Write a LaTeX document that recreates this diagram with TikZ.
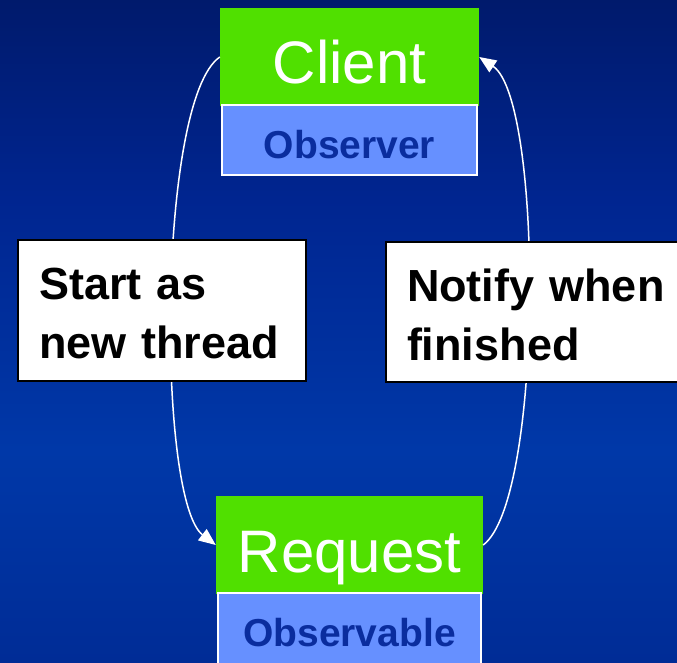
\documentclass[tikz,border=0pt]{standalone}
\usepackage{fontspec}
\setmainfont{Liberation Sans}
\usetikzlibrary{arrows.meta}

\definecolor{bgtop}{HTML}{001A6C}
\definecolor{bgupper}{HTML}{002590}
\definecolor{bglight}{HTML}{0038A8}
\definecolor{bgbottom}{HTML}{002C96}
\definecolor{classgreen}{HTML}{50E000}
\definecolor{rolefill}{HTML}{6690FF}
\definecolor{roletext}{HTML}{0A2D9E}

% backdrop: dark navy at the top, brightest blue low down
\pgfdeclareverticalshading{backdrop}{100bp}{%
  color(0bp)=(bgbottom); color(25bp)=(bgbottom);
  color(41bp)=(bglight); color(60bp)=(bgupper);
  color(75bp)=(bgtop); color(100bp)=(bgtop)}

\tikzset{
  classbox/.style={fill=classgreen, inner sep=0pt, text=white,
    font=\fontsize{60}{60}\selectfont, align=center},
  rolebox/.style={fill=rolefill, draw=white, line width=2pt, inner sep=0pt,
    text=roletext, font=\bfseries\fontsize{39}{39}\selectfont, align=center},
  notebox/.style={fill=white, draw=black, line width=2pt, inner ysep=0pt,
    inner xsep=21pt, align=left, text=black,
    font=\bfseries\fontsize{45}{59}\selectfont},
  flow/.style={draw=white, line width=1.5pt,
    -{Triangle[length=17pt,width=14pt]}}
}

\begin{document}
\begin{tikzpicture}[x=1pt,y=-1pt]
  \useasboundingbox (0,0) rectangle (677,662);
  \shade[shading=backdrop] (0,0) rectangle (677,662);

  % Client class with its Observer role
  \node[classbox, text width=259pt, text height=75pt, text depth=23pt]
    (client) at (349.5,57) {Client};
  \node[rolebox, text width=255pt, text height=53pt, text depth=17pt]
    (observer) at (349.5,140) {Observer};

  % Request class with its Observable role
  \node[classbox, text width=267pt, text height=76pt, text depth=22pt]
    (request) at (349.5,545) {Request};
  \node[rolebox, text width=263pt, text height=53pt, text depth=18pt]
    (observable) at (349.5,628.5) {Observable};

  % the two flows, drawn under their captions
  \draw[flow] (client.west) .. controls (157,100) and (157,500) .. (request.west);
  \draw[flow] (request.east) .. controls (543.5,500) and (543.5,100) .. (client.east);

  % captions
  \node[notebox, text width=246pt, text height=59pt, text depth=82pt]
    (start) at (162,310.5) {Start as\\new thread};
  \node[notebox, text width=272pt, text height=59pt, text depth=81pt]
    (notify) at (543,312) {Notify when\\finished};
\end{tikzpicture}
\end{document}
